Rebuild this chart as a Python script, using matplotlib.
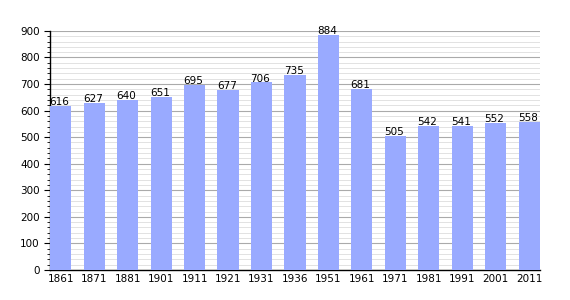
import numpy as np
import matplotlib.pyplot as plt
from matplotlib.ticker import MultipleLocator

# Population by census year
years = ['1861', '1871', '1881', '1901', '1911', '1921', '1931', '1936',
         '1951', '1961', '1971', '1981', '1991', '2001', '2011']
population = [616, 627, 640, 651, 695, 677, 706, 735, 884, 681, 505, 542, 541, 552, 558]

bar_width = 0.63
x = np.arange(len(years))

fig = plt.figure(figsize=(5.7, 3.0), dpi=100)
ax = fig.add_axes([0.088, 0.1, 0.859, 0.797])

ax.bar(x, population, width=bar_width, color='#99aaff', zorder=3)

# Value labels above the bars
for xi, v in zip(x, population):
    ax.text(xi - bar_width / 2 - 0.02, v - 4, str(v), ha='left', va='bottom',
            fontsize=7.5, color='black', zorder=4)

ax.set_xlim(-bar_width / 2, len(years) - 1 + bar_width / 2)
ax.set_ylim(0, 900)
ax.set_xticks(x)
ax.set_xticklabels(years, fontsize=7.5)
ax.yaxis.set_major_locator(MultipleLocator(100))
ax.yaxis.set_minor_locator(MultipleLocator(20))
ax.tick_params(axis='y', which='major', labelsize=7.5, length=4, width=0.8)
ax.tick_params(axis='y', which='minor', length=2, width=0.6)
ax.tick_params(axis='x', length=0, pad=3)

ax.grid(axis='y', which='major', color='#aaaaaa', linewidth=0.8, zorder=0)
ax.grid(axis='y', which='minor', color='#dddddd', linewidth=0.6, zorder=0)
ax.set_axisbelow(True)

for s in ['top', 'right']:
    ax.spines[s].set_visible(False)
ax.spines['left'].set_linewidth(1)
ax.spines['bottom'].set_linewidth(1)

plt.savefig('out.png', dpi=100)
